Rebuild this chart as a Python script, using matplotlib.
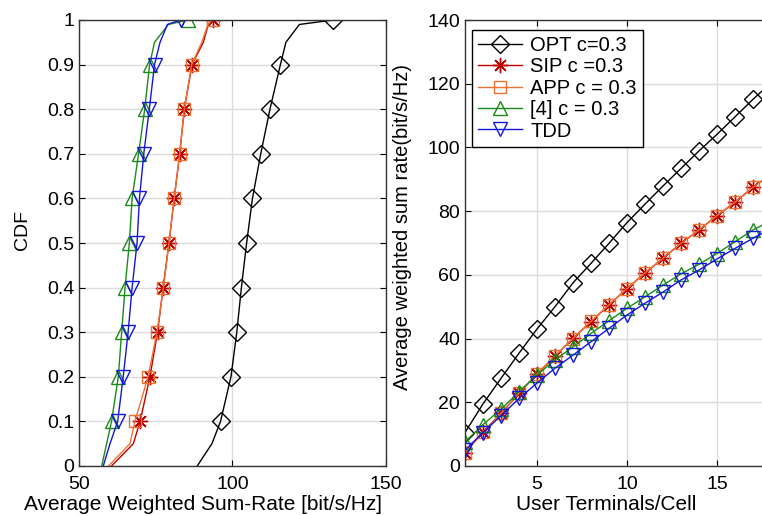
import matplotlib
matplotlib.use("Agg")
import matplotlib.pyplot as plt
import numpy as np

plt.rcParams['font.family'] = ['Liberation Sans', 'DejaVu Sans']

# ---- left panel: CDF of average weighted sum-rate ----
cdf_levels = [0, 0.05, 0.1, 0.2, 0.3, 0.4, 0.5, 0.6, 0.7, 0.8, 0.9, 0.95, 0.99, 1.0]
cdf_opt = [88.5, 93.3, 96.1, 99.5, 101.4, 102.9, 104.6, 106.5, 109.2, 112.2, 115.6, 117.4, 121.8, 132.8]
cdf_sip = [60.6, 67.7, 69.9, 73.1, 75.6, 77.4, 79.3, 81.0, 82.8, 84.3, 86.8, 90.5, 92.1, 93.5]
cdf_app = [59.6, 66.6, 68.2, 72.5, 75.4, 77.5, 79.3, 81.0, 82.8, 84.3, 86.7, 90.0, 92.0, 93.5]
cdf_ref4 = [57.4, 59.0, 60.6, 62.8, 63.9, 65.0, 66.4, 67.3, 69.4, 71.4, 73.0, 74.6, 79.1, 85.5]
cdf_tdd = [57.9, 60.1, 62.6, 64.4, 66.0, 67.3, 68.9, 69.7, 71.1, 72.9, 74.6, 76.4, 78.8, 83.1]

# ---- right panel: sum rate vs user terminals ----
users = np.arange(1, 19)
rate_opt = [10.5, 19.5, 27.5, 35.4, 43.0, 50.0, 57.5, 63.6, 69.9, 76.4, 82.2, 87.9, 93.4, 98.9, 104.1, 109.6, 115.1, 120.3]
rate_sip = [4.2, 10.8, 16.5, 22.8, 28.9, 34.5, 40.1, 45.3, 50.6, 55.7, 60.6, 65.2, 69.9, 74.1, 78.6, 82.8, 87.5, 91.6]
rate_app = [4.0, 10.6, 16.5, 22.9, 28.9, 34.6, 40.0, 45.4, 50.6, 55.7, 60.6, 65.2, 69.9, 74.1, 78.6, 82.8, 87.5, 91.6]
rate_ref4 = [7.6, 13.0, 17.8, 23.3, 28.6, 33.3, 37.4, 41.6, 45.6, 49.5, 53.1, 56.8, 60.3, 63.3, 66.7, 70.4, 74.1, 77.0]
rate_tdd = [5.0, 10.5, 15.8, 21.2, 26.0, 30.7, 34.8, 39.0, 43.2, 47.4, 51.1, 54.6, 58.4, 61.5, 65.0, 68.3, 71.5, 74.5]

labels = ['OPT c=0.3', 'SIP c =0.3', 'APP c = 0.3', '[4] c = 0.3', 'TDD']
colors = ['black', '#c00000', '#f07030', '#1a8a1a', '#1515e0']
# matlab style '*' is an 8-arm asterisk
markers = ['D', (8, 2, 0), 's', '^', 'v']
msizes = [9, 11, 9, 10, 10]

fig = plt.figure(figsize=(7.62, 5.16), dpi=100)
ax1 = fig.add_axes([79 / 762, 1 - 466 / 516, 307 / 762, 446 / 516])
ax2 = fig.add_axes([465 / 762, 1 - 466 / 516, 342 / 762, 446 / 516])

cdf_series = [cdf_opt, cdf_sip, cdf_app, cdf_ref4, cdf_tdd]
mark_idx = [2, 3, 4, 5, 6, 7, 8, 9, 10, 13]
for vals, c, m, ms in zip(cdf_series, colors, markers, msizes):
    ax1.plot(vals, cdf_levels, color=c, lw=1.0, marker=m, markersize=ms,
             markevery=mark_idx, markerfacecolor='none', markeredgecolor=c,
             markeredgewidth=1.0)

ax1.set_xlim(50, 150)
ax1.set_ylim(0, 1)
ax1.set_xticks([50, 100, 150])
ax1.set_yticks(np.arange(0, 1.01, 0.1))
ax1.set_yticklabels(['0', '0.1', '0.2', '0.3', '0.4', '0.5', '0.6', '0.7', '0.8', '0.9', '1'])
ax1.set_xlabel('Average Weighted Sum-Rate [bit/s/Hz]', fontsize=15)
ax1.xaxis.set_label_coords(0.404, -0.064)
ax1.set_ylabel('CDF', fontsize=14)
ax1.yaxis.set_label_coords(-0.155, 0.53)

rate_series = [rate_opt, rate_sip, rate_app, rate_ref4, rate_tdd]
for vals, lab, c, m, ms in zip(rate_series, labels, colors, markers, msizes):
    ax2.plot(users, vals, color=c, lw=1.0, marker=m, markersize=ms,
             markerfacecolor='none', markeredgecolor=c, markeredgewidth=1.0,
             label=lab)

ax2.set_xlim(1, 20)
ax2.set_ylim(0, 140)
ax2.set_xticks([5, 10, 15])
ax2.set_yticks(np.arange(0, 141, 20))
ax2.set_xlabel('User Terminals/Cell', fontsize=15)
ax2.xaxis.set_label_coords(0.412, -0.064)
ax2.set_ylabel('Average weighted sum rate(bit/s/Hz)', fontsize=14.5)
ax2.yaxis.set_label_coords(-0.155, 0.535)

leg = ax2.legend(loc='upper left', bbox_to_anchor=(0.02, 0.978), borderaxespad=0,
                 fontsize=14.5, fancybox=False, framealpha=1, edgecolor='black',
                 handlelength=2.2, handletextpad=0.4, labelspacing=0.12,
                 borderpad=0.3)
leg.get_frame().set_linewidth(1.0)

for ax in (ax1, ax2):
    ax.grid(True, color='#dcdcdc', lw=1.0)
    ax.set_axisbelow(True)
    ax.tick_params(direction='in', top=True, right=True, labelsize=14,
                   length=4, width=0.8)
    ax.tick_params(axis='x', pad=7)
    for sp in ax.spines.values():
        sp.set_linewidth(1.0)
        sp.set_color('#333333')

fig.savefig('out.png', dpi=100)
